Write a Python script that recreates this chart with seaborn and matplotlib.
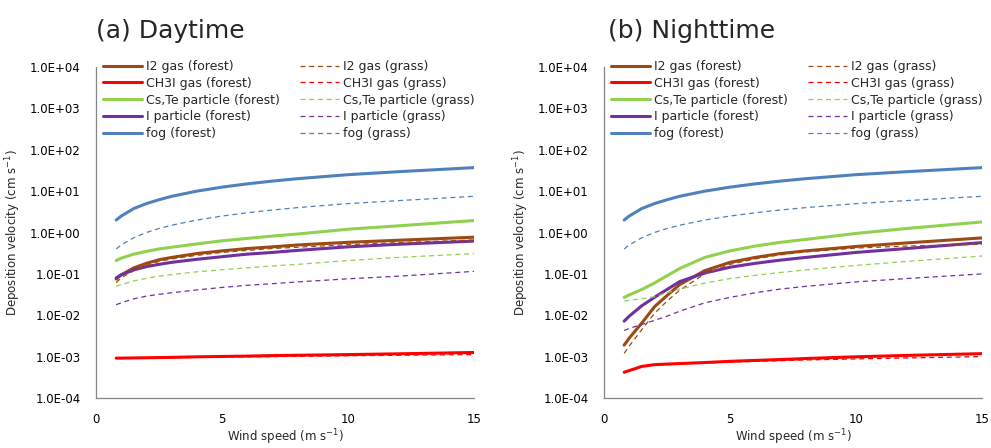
import numpy as np
import pandas as pd
import matplotlib
matplotlib.use("Agg")
import matplotlib.pyplot as plt
import seaborn as sns

# wind speed grid (m/s)
wind = [0.8, 1, 1.5, 2, 2.5, 3, 4, 5, 6, 7, 8, 10, 12, 15]

species = ["I2 gas", "CH3I gas", "Cs,Te particle", "I particle", "fog"]
colors = ["#9C4A12", "#FF0000", "#92D050", "#7030A0", "#4F81BD"]

# daytime
day_i2_forest = [0.075, 0.095, 0.14, 0.18, 0.22, 0.25, 0.31, 0.36, 0.41, 0.45, 0.50, 0.58, 0.65, 0.77]
day_i2_grass = [0.062, 0.08, 0.12, 0.16, 0.20, 0.23, 0.28, 0.33, 0.37, 0.41, 0.44, 0.51, 0.57, 0.66]
day_ch3i_forest = [0.00092, 0.00092, 0.00093, 0.00094, 0.00095, 0.00096, 0.00099, 0.00101, 0.00103, 0.00106, 0.00108, 0.00112, 0.00117, 0.00126]
day_ch3i_grass = [0.00090, 0.00090, 0.00091, 0.00092, 0.00093, 0.00094, 0.00096, 0.00098, 0.00099, 0.00100, 0.00102, 0.00105, 0.00108, 0.00112]
day_cste_forest = [0.21, 0.24, 0.30, 0.35, 0.40, 0.44, 0.53, 0.63, 0.72, 0.82, 0.92, 1.20, 1.45, 1.95]
day_cste_grass = [0.050, 0.055, 0.068, 0.078, 0.088, 0.096, 0.112, 0.126, 0.14, 0.155, 0.17, 0.21, 0.25, 0.31]
day_ipart_forest = [0.080, 0.095, 0.125, 0.15, 0.17, 0.19, 0.225, 0.26, 0.30, 0.33, 0.37, 0.45, 0.52, 0.62]
day_ipart_grass = [0.018, 0.020, 0.025, 0.029, 0.032, 0.035, 0.041, 0.047, 0.053, 0.058, 0.064, 0.076, 0.088, 0.115]
day_fog_forest = [2.0, 2.5, 3.8, 5.0, 6.2, 7.5, 10.0, 12.5, 15.0, 17.5, 20.0, 25.0, 29.5, 37.0]
day_fog_grass = [0.40, 0.50, 0.75, 1.0, 1.25, 1.5, 2.0, 2.5, 3.0, 3.5, 4.0, 5.0, 5.9, 7.5]

# nighttime
night_i2_forest = [0.0019, 0.0028, 0.0065, 0.016, 0.030, 0.055, 0.12, 0.19, 0.25, 0.31, 0.36, 0.46, 0.56, 0.74]
night_i2_grass = [0.0012, 0.0018, 0.0045, 0.011, 0.022, 0.040, 0.10, 0.17, 0.23, 0.29, 0.34, 0.42, 0.47, 0.52]
night_ch3i_forest = [0.00042, 0.00046, 0.00058, 0.00064, 0.00066, 0.00068, 0.00072, 0.00077, 0.00081, 0.00085, 0.00090, 0.00099, 0.00107, 0.00118]
night_ch3i_grass = [0.00042, 0.00046, 0.00058, 0.00063, 0.00065, 0.00067, 0.00070, 0.00074, 0.00077, 0.00080, 0.00083, 0.00088, 0.00093, 0.00100]
night_cste_forest = [0.027, 0.031, 0.042, 0.060, 0.090, 0.135, 0.25, 0.36, 0.47, 0.58, 0.68, 0.95, 1.25, 1.8]
night_cste_grass = [0.022, 0.023, 0.025, 0.028, 0.035, 0.043, 0.060, 0.077, 0.092, 0.108, 0.125, 0.16, 0.20, 0.27]
night_ipart_forest = [0.0072, 0.0095, 0.017, 0.027, 0.042, 0.065, 0.105, 0.145, 0.18, 0.215, 0.25, 0.33, 0.41, 0.57]
night_ipart_grass = [0.0043, 0.0048, 0.0060, 0.0075, 0.0095, 0.0125, 0.020, 0.027, 0.035, 0.043, 0.050, 0.064, 0.077, 0.10]
night_fog_forest = [2.0, 2.5, 3.8, 5.0, 6.2, 7.5, 10.0, 12.5, 15.0, 17.5, 20.0, 25.0, 29.5, 37.0]
night_fog_grass = [0.40, 0.50, 0.75, 1.0, 1.25, 1.5, 2.0, 2.5, 3.0, 3.5, 4.0, 5.0, 5.9, 7.5]

day_forest = [day_i2_forest, day_ch3i_forest, day_cste_forest, day_ipart_forest, day_fog_forest]
day_grass = [day_i2_grass, day_ch3i_grass, day_cste_grass, day_ipart_grass, day_fog_grass]
night_forest = [night_i2_forest, night_ch3i_forest, night_cste_forest, night_ipart_forest, night_fog_forest]
night_grass = [night_i2_grass, night_ch3i_grass, night_cste_grass, night_ipart_grass, night_fog_grass]

sns.set_style("white")
plt.rcParams['font.family'] = ['DejaVu Sans']
plt.rcParams['mathtext.default'] = 'regular'
plt.rcParams['axes.unicode_minus'] = False

fig = plt.figure(figsize=(9.91, 4.48), dpi=100)
ax_day = fig.add_axes([0.0969, 0.1116, 0.3814, 0.7388])
ax_night = fig.add_axes([0.6095, 0.1116, 0.3814, 0.7388])


def draw_panel(ax, forest, grass, title, title_x):
    # forest first then grass, so the 2-col legend fills like the original
    for name, col, vals in zip(species, colors, forest):
        df = pd.DataFrame({'wind': wind, 'vd': vals})
        sns.lineplot(data=df, x='wind', y='vd', ax=ax, color=col, lw=2.2,
                     label=f"{name} (forest)")
    for name, col, vals in zip(species, colors, grass):
        df = pd.DataFrame({'wind': wind, 'vd': vals})
        sns.lineplot(data=df, x='wind', y='vd', ax=ax, color=col, lw=0.9,
                     dashes=(4, 3), label=f"{name} (grass)")
    ax.set_yscale('log')
    ax.set_ylim(1e-4, 1e4)
    ax.set_xlim(0, 15)
    ax.set_xticks([0, 5, 10, 15])
    ax.set_yticks([10.0 ** k for k in range(-4, 5)])
    ax.yaxis.set_major_formatter(matplotlib.ticker.FuncFormatter(
        lambda v, p: "1.0E{:+03d}".format(int(round(np.log10(v))))))
    ax.yaxis.set_minor_locator(matplotlib.ticker.NullLocator())
    ax.tick_params(axis='both', direction='out', length=3, width=0.8,
                   colors='#868686', labelcolor='black', labelsize=8.5)
    ax.tick_params(axis='x', pad=8)
    ax.tick_params(axis='y', pad=8)
    for s in ['top', 'right']:
        ax.spines[s].set_visible(False)
    for s in ['left', 'bottom']:
        ax.spines[s].set_color('#868686')
        ax.spines[s].set_linewidth(0.9)
    ax.set_xlabel("Wind speed (m s$^{-1}$)", fontsize=8.5, labelpad=1)
    ax.set_ylabel("Deposition velocity (cm s$^{-1}$)", fontsize=8.5, labelpad=5)
    ax.legend(loc='upper left', bbox_to_anchor=(0.0185, 1.021), ncol=2,
              frameon=False, fontsize=9, handlelength=3.1, handletextpad=0.35,
              labelspacing=0.3, columnspacing=1.6, borderaxespad=0, borderpad=0)
    fig.text(title_x, 0.93, title, fontsize=18, ha='left', va='center')


draw_panel(ax_day, day_forest, day_grass, "(a) Daytime", 0.097)
draw_panel(ax_night, night_forest, night_grass, "(b) Nighttime", 0.614)

fig.savefig("out.png", dpi=100)
